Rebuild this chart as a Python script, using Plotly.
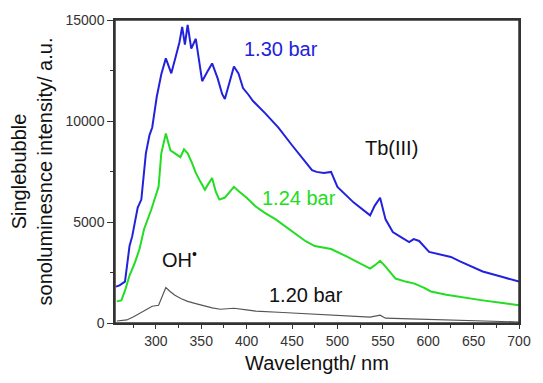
import plotly.graph_objects as go

# 1.30 bar (blue)
wl_130 = [256, 260, 266, 271, 274, 280, 284, 289, 293, 296, 301, 306, 311, 317, 322, 326, 329, 332, 335, 339, 344,
          351, 357, 362, 368, 373, 376, 381, 386, 391, 396, 402, 407, 420, 435, 450, 465, 472, 477, 485, 493,
          500, 518, 536, 541, 547, 553, 561, 570, 579, 584, 590, 601, 612, 622, 625, 635, 646, 660, 680, 700]
int_130 = [1800, 1860, 2050, 3810, 4300, 5720, 6110, 8400, 9300, 9680, 11200, 12310, 13100, 12360, 13200, 13900, 14660, 13780,
           14760, 13580, 14070, 11970, 12460, 12850, 12120, 11340, 11090, 11900, 12700, 12360, 11630, 11300, 10990, 10400,
           9670, 8800, 7950, 7570, 7480, 7430, 7480, 6740, 5960, 5330, 5800, 6200, 5130, 4500, 4250, 4010, 4150,
           4060, 3520, 3400, 3320, 3270, 3050, 2830, 2550, 2300, 2050]

# 1.24 bar (green)
wl_124 = [257, 262, 266, 271, 277, 282, 287, 295, 303, 306, 311, 316, 321, 327, 331, 335, 340, 344, 349, 354, 358,
          362, 366, 370, 376, 381, 386, 392, 400, 410, 420, 432, 450, 465, 475, 484, 493, 510, 525, 536, 541, 547,
          553, 564, 575, 585, 595, 603, 620, 640, 660, 680, 700]
int_124 = [1070, 1120, 1600, 2350, 3000, 3660, 4640, 5620, 6740, 8400, 9380, 8550, 8400, 8210, 8600, 8400, 7900, 7430,
           7000, 6600, 6900, 7180, 6500, 6110, 6210, 6500, 6740, 6500, 6200, 5770, 5450, 5130, 4550, 4050, 3810, 3750,
           3660, 3300, 2950, 2690, 2850, 3080, 2790, 2200, 2050, 1950, 1750, 1560, 1400, 1250, 1120, 1000, 880]

# 1.20 bar (gray)
wl_120 = [257, 268, 275, 282, 290, 296, 303, 307, 311, 316, 321, 328, 335, 345, 354, 362, 371, 386, 400, 410,
          440, 470, 500, 520, 536, 547, 553, 580, 620, 660, 700]
int_120 = [100, 150, 300, 490, 700, 830, 880, 1300, 1760, 1550, 1370, 1200, 1070, 950, 830, 750, 680, 730, 650, 590,
           520, 450, 400, 340, 290, 390, 240, 200, 150, 100, 50]

x_ticks = [300, 350, 400, 450, 500, 550, 600, 650, 700]
x_labels = ["300", "350", "400", "450", "500", "550", "600", "650", "700"]
y_ticks = [0, 5000, 10000, 15000]
y_labels = ["0", "5000", "10000", "15000"]

fig = go.Figure()
fig.add_trace(go.Scatter(x=wl_120, y=int_120, mode="lines", line=dict(color="#555555", width=1.2)))
fig.add_trace(go.Scatter(x=wl_124, y=int_124, mode="lines", line=dict(color="#22dd22", width=2)))
fig.add_trace(go.Scatter(x=wl_130, y=int_130, mode="lines", line=dict(color="#2222dd", width=2)))

font_family = "Liberation Sans, Arial, sans-serif"
L, R, T, B = 115, 13, 18, 58
W, H = 543, 383
pw, ph = W - L - R, H - T - B

ann = [
    dict(x=245, y=47, text="1.30 bar", color="#2222dd"),
    dict(x=370, y=148, text="Tb(III)", color="#111111"),
    dict(x=264, y=198, text="1.24 bar", color="#22dd22"),
    dict(x=271, y=297, text="1.20 bar", color="#111111"),
    dict(x=161, y=260, text="OH<sup>•</sup>", color="#111111"),
]
for a in ann:
    fig.add_annotation(x=(a["x"] - L) / pw, y=1 - (a["y"] - T) / ph, xref="paper", yref="paper",
                       text=a["text"], showarrow=False,
                       font=dict(size=20, color=a["color"], family=font_family),
                       xanchor="left", yanchor="middle")

# explicit frame around the plot area
fig.add_shape(type="rect", xref="x domain", yref="y domain", x0=0, y0=0, x1=1, y1=1,
              line=dict(color="#333333", width=1.5), layer="above")

fig.update_layout(
    width=W, height=H,
    margin=dict(l=L, r=R, t=T, b=B),
    paper_bgcolor="white", plot_bgcolor="white",
    showlegend=False,
    font=dict(family=font_family, color="#333333", size=14),
    xaxis=dict(range=[255, 700], tickvals=x_ticks, ticktext=x_labels, ticks="outside", ticklen=4,
               tickcolor="#333", showline=True, linecolor="#333", linewidth=1.5, mirror=True,
               showgrid=False, zeroline=False,
               minor=dict(dtick=25, tick0=0, ticks="outside", ticklen=3, tickcolor="#333"),
               title=dict(text="Wavelength/ nm", font=dict(size=20, color="#111111"), standoff=8)),
    yaxis=dict(range=[0, 15000], tickvals=y_ticks, ticktext=y_labels, ticks="outside", ticklen=6,
               tickcolor="#333", showline=True, linecolor="#333", linewidth=1.5, mirror=True,
               showgrid=False, zeroline=False,
               minor=dict(dtick=2500, tick0=0, ticks="outside", ticklen=3, tickcolor="#333"),
               title=dict(text="Singlebubble<br>sonoluminesnce intensity/ a.u.",
                          font=dict(size=20, color="#111111"), standoff=8)),
)

fig.write_html("out.html", config={"displayModeBar": False},
               post_script="document.body.style.margin='0px';document.body.style.overflow='hidden';")
